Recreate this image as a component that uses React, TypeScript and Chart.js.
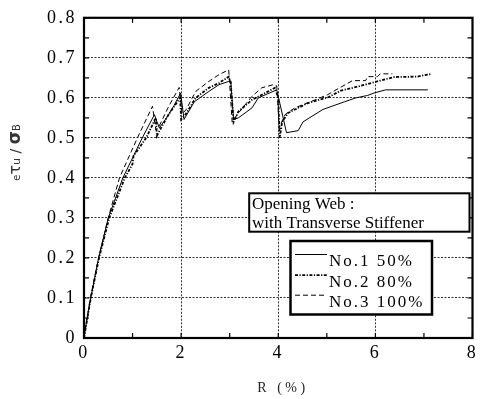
import { useEffect, useRef } from "react";
import { Chart, registerables } from "chart.js";

Chart.register(...registerables);

// ---- data ----
const seriesLabels = ["No.1 50%", "No.2 80%", "No.3 100%"];

const no1X = [0, 0.05, 0.14, 0.3, 0.5, 0.8, 1.0, 1.2, 1.45, 1.55, 1.7, 1.85, 1.99, 2.06, 2.27, 2.57, 2.78, 2.98, 3.02, 3.08, 3.18, 3.46, 3.59, 3.97, 4.17, 4.41, 4.51, 4.92, 5.36, 5.6, 5.84, 5.97, 6.21, 7.08];
const no1Y = [0, 0.04, 0.1, 0.2, 0.3, 0.4, 0.45, 0.5, 0.558, 0.525, 0.55, 0.58, 0.612, 0.546, 0.59, 0.616, 0.633, 0.641, 0.643, 0.546, 0.55, 0.575, 0.6, 0.62, 0.513, 0.518, 0.54, 0.571, 0.59, 0.6, 0.606, 0.612, 0.62, 0.62];

const no2X = [0, 0.14, 0.31, 0.52, 0.84, 1.0, 1.02, 1.28, 1.48, 1.5, 1.55, 1.75, 1.98, 2.0, 2.1, 2.3, 2.57, 2.78, 2.98, 3.02, 3.08, 3.18, 3.46, 3.73, 3.93, 4.0, 4.03, 4.08, 4.2, 4.61, 5.02, 5.29, 5.63, 6.04, 6.38, 6.86, 7.16];
const no2Y = [0, 0.1, 0.2, 0.3, 0.4, 0.435, 0.455, 0.5, 0.55, 0.505, 0.517, 0.56, 0.6, 0.546, 0.56, 0.6, 0.625, 0.637, 0.653, 0.64, 0.54, 0.566, 0.595, 0.612, 0.625, 0.6, 0.5, 0.54, 0.562, 0.587, 0.601, 0.618, 0.628, 0.641, 0.652, 0.653, 0.66];

const no3X = [0, 0.13, 0.3, 0.5, 0.73, 1.1, 1.41, 1.48, 1.55, 1.75, 1.96, 2.02, 2.1, 2.3, 2.57, 2.78, 2.98, 3.05, 3.18, 3.46, 3.66, 3.9, 3.97, 4.02, 4.14, 4.34, 4.68, 5.02, 5.19, 5.53, 5.8, 5.84, 6.04, 6.1, 6.35];
const no3Y = [0, 0.1, 0.2, 0.3, 0.4, 0.5, 0.579, 0.52, 0.53, 0.58, 0.626, 0.56, 0.57, 0.616, 0.641, 0.658, 0.67, 0.54, 0.562, 0.604, 0.625, 0.633, 0.63, 0.525, 0.558, 0.575, 0.591, 0.608, 0.62, 0.643, 0.643, 0.653, 0.653, 0.66, 0.66];

const xTickLabels = ["0", "2", "4", "6", "8"];
const yTickLabels = ["0", "0.1", "0.2", "0.3", "0.4", "0.5", "0.6", "0.7", "0.8"];
const boxTitleLines = ["Opening Web :", "with Transverse Stiffener"];
const xTitle = "R (%)";

const zip = (xs: number[], ys: number[]) => xs.map((x, i) => ({ x, y: ys[i] }));

const SERIF = '"Liberation Serif", "Times New Roman", serif';

const deco = {
  id: "deco",
  beforeDraw(chart: any) {
    (chart.ctx as any).letterSpacing = "2.5px";
  },
  afterDraw(chart: any) {
    const ctx = chart.ctx as CanvasRenderingContext2D & { letterSpacing: string };
    const { left, right, top, bottom } = chart.chartArea;
    const xs = chart.scales.x;
    const ys = chart.scales.y;
    ctx.save();
    ctx.letterSpacing = "0px";
    ctx.setLineDash([]);
    ctx.strokeStyle = "#000";
    ctx.lineWidth = 1.2;
    // inward minor ticks
    for (let k = 0; k <= 16; k++) {
      const py = ys.getPixelForValue(k * 0.05);
      ctx.beginPath();
      ctx.moveTo(left, py); ctx.lineTo(left + 5, py);
      ctx.moveTo(right, py); ctx.lineTo(right - 5, py);
      ctx.stroke();
    }
    for (let k = 0; k <= 8; k++) {
      const px = xs.getPixelForValue(k);
      ctx.beginPath();
      ctx.moveTo(px, top); ctx.lineTo(px, top + 5);
      ctx.moveTo(px, bottom); ctx.lineTo(px, bottom - 5);
      ctx.stroke();
    }
    // frame
    ctx.lineWidth = 2.2;
    ctx.strokeRect(left, top, right - left, bottom - top);

    // title box
    ctx.fillStyle = "#fff";
    ctx.fillRect(249, 193, 220, 38.5);
    ctx.lineWidth = 2;
    ctx.strokeRect(249.2, 193.3, 220.3, 38.4);
    ctx.fillStyle = "#000";
    ctx.font = "17px " + SERIF;
    ctx.textAlign = "left";
    ctx.textBaseline = "alphabetic";
    ctx.fillText(boxTitleLines[0], 252, 208.5);
    ctx.fillText(boxTitleLines[1], 252, 227.5);

    // legend box
    ctx.fillStyle = "#fff";
    ctx.fillRect(290.5, 241, 141.5, 73.5);
    ctx.lineWidth = 2.5;
    ctx.strokeRect(290.5, 241, 141.5, 73.5);
    const baselines = [266, 286.7, 306.7];
    chart.data.datasets.forEach((ds: any, i: number) => {
      const b = baselines[i];
      ctx.save();
      ctx.strokeStyle = "#000";
      ctx.lineWidth = ds.borderWidth;
      ctx.setLineDash(ds.borderDash || []);
      ctx.beginPath();
      ctx.moveTo(295, b - 11.5);
      ctx.lineTo(327, b - 11.5);
      ctx.stroke();
      ctx.restore();
      ctx.fillStyle = "#000";
      ctx.font = "17px " + SERIF;
      ctx.letterSpacing = "2px";
      ctx.textAlign = "left";
      ctx.fillText(ds.label, 329, b);
      ctx.letterSpacing = "0px";
    });

    // x title
    ctx.font = "14px " + SERIF;
    ctx.letterSpacing = "3.5px";
    ctx.textAlign = "center";
    ctx.fillStyle = "#222";
    ctx.fillText(xTitle, 283, 391.5);
    ctx.letterSpacing = "0px";

    // y title with sub-scripts, rotated
    const parts = [
      { t: "e", f: '10px "DejaVu Sans"' },
      { t: "\u03c4", f: '16px "DejaVu Sans"' },
      { t: "u", f: '11px "DejaVu Sans"' },
      { t: " / ", f: '14px "DejaVu Sans"' },
      { t: "\u03c3", f: 'bold 17px "DejaVu Sans"' },
      { t: "B", f: '10px "DejaVu Sans"' },
    ];
    let total = 0;
    const widths = parts.map((p) => {
      ctx.font = p.f;
      const w = ctx.measureText(p.t).width;
      total += w;
      return w;
    });
    ctx.translate(20, 152.5);
    ctx.rotate(-Math.PI / 2);
    ctx.fillStyle = "#333";
    ctx.textAlign = "left";
    let cx = -total / 2;
    parts.forEach((p, i) => {
      ctx.font = p.f;
      ctx.fillText(p.t, cx, 0);
      cx += widths[i];
    });
    ctx.restore();
  },
};

export default function App() {
  const ref = useRef<HTMLCanvasElement | null>(null);
  useEffect(() => {
    if (!ref.current) return;
    const chart = new Chart(ref.current, {
      type: "scatter",
      data: {
        datasets: [
          { label: seriesLabels[0], data: zip(no1X, no1Y), showLine: true, borderColor: "#000", borderWidth: 1, borderDash: [], pointRadius: 0, tension: 0 },
          { label: seriesLabels[1], data: zip(no2X, no2Y), showLine: true, borderColor: "#000", borderWidth: 1.8, borderDash: [3, 1.5, 1.2, 1.5], pointRadius: 0, tension: 0 },
          { label: seriesLabels[2], data: zip(no3X, no3Y), showLine: true, borderColor: "#000", borderWidth: 1, borderDash: [5, 3], pointRadius: 0, tension: 0 },
        ],
      },
      options: {
        animation: false,
        responsive: true,
        maintainAspectRatio: false,
        layout: { padding: { left: 0, right: 5, top: 16, bottom: 0 } },
        plugins: { legend: { display: false }, tooltip: { enabled: false } },
        scales: {
          x: {
            type: "linear",
            min: 0,
            max: 8,
            afterFit: (s: any) => { s.height = 61; },
            afterBuildTicks: (s: any) => { s.ticks = xTickLabels.map((v) => ({ value: Number(v) })); },
            ticks: {
              padding: 4,
              color: "#000",
              font: { family: SERIF, size: 18 },
              callback: (v: any) => xTickLabels.find((t) => Number(t) === v) ?? "",
            },
            grid: { color: "#333", lineWidth: 1, drawTicks: false },
            border: { display: false, dash: [2, 1.5] },
          },
          y: {
            type: "linear",
            min: 0,
            max: 0.8,
            afterFit: (s: any) => { s.width = 84; },
            afterBuildTicks: (s: any) => { s.ticks = yTickLabels.map((v) => ({ value: Number(v) })); },
            ticks: {
              padding: 7,
              color: "#000",
              font: { family: SERIF, size: 18 },
              callback: (v: any) => yTickLabels.find((t) => Math.abs(Number(t) - v) < 1e-9) ?? "",
            },
            grid: { color: "#333", lineWidth: 1, drawTicks: false },
            border: { display: false, dash: [2, 1.5] },
          },
        },
      },
      plugins: [deco],
    } as any);
    return () => chart.destroy();
  }, []);
  return (
    <div style={{ position: "fixed", left: 0, top: 0, width: 481, height: 399, background: "#fff" }}>
      <canvas ref={ref} />
    </div>
  );
}
